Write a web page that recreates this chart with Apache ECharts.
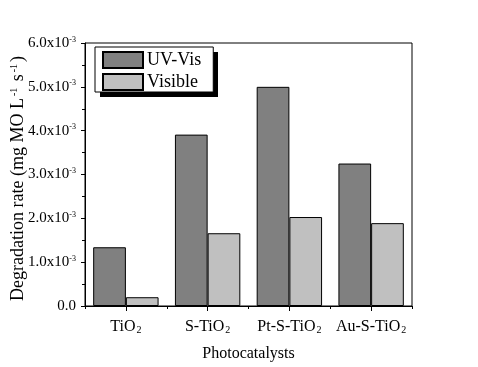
<!DOCTYPE html>
<html>
<head>
<meta charset="utf-8">
<script src="https://cdn.jsdelivr.net/npm/echarts@6/dist/echarts.min.js"></script>
<style>
  html, body { margin: 0; padding: 0; background: #fff; }
  #chart { width: 478px; height: 367px; }
</style>
</head>
<body>
<div id="chart"></div>
<script>
// values, in mg MO L^-1 s^-1
const categories = ['TiO2', 'S-TiO2', 'Pt-S-TiO2', 'Au-S-TiO2']
const uvVis   = [1.34e-3, 3.91e-3, 5.00e-3, 3.25e-3]
const visible = [0.20e-3, 1.66e-3, 2.03e-3, 1.89e-3]

const FONT = '"Liberation Serif", "Times New Roman", serif'

const chart = echarts.init(document.getElementById('chart'), null, { renderer: 'canvas' })

// subscript the trailing 2 in the catalyst names
function catLabel(name) {
  return name.endsWith('2') ? `{n|${name.slice(0, -1)}}{sub|2}` : `{n|${name}}`
}

function yLabel(v) {
  if (Math.abs(v) < 1e-9) return '{n|0.0}'
  return `{n|${(v * 1000).toFixed(1)}x10}{sup|-3}`
}

const catAxisBase = {
  type: 'category',
  data: categories,
  position: 'bottom',
  axisLine: { lineStyle: { color: '#000', width: 1 } },
  splitLine: { show: false },
}

chart.setOption({
  backgroundColor: '#fff',
  animation: false,
  textStyle: { fontFamily: FONT },
  grid: {
    left: 85, right: 66, top: 43, bottom: 61,
    containLabel: false, outerBoundsMode: 'none',
    show: true, borderColor: '#000', borderWidth: 1, backgroundColor: 'transparent',
  },
  // hard drop shadow behind the legend box
  graphic: [{
    type: 'rect', z: 3, silent: true,
    shape: { x: 100, y: 52, width: 118, height: 45 },
    style: { fill: '#000' },
  }],
  legend: {
    left: 95, top: 47, z: 4,
    orient: 'vertical',
    itemWidth: 40, itemHeight: 16, itemGap: 4,
    padding: [4, 12, 1, 7],
    backgroundColor: '#fff',
    borderColor: '#000', borderWidth: 1,
    icon: 'rect',
    textStyle: { fontFamily: FONT, fontSize: 18, color: '#000', padding: [0, 0, 0, -1] },
    data: ['UV-Vis', 'Visible'],
  },
  xAxis: [
    {
      ...catAxisBase,
      name: 'Photocatalysts',
      nameLocation: 'middle',
      nameGap: 40,
      nameMoveOverlap: false,
      nameTextStyle: { fontFamily: FONT, fontSize: 16, color: '#000' },
      axisTick: { show: true, length: 3, lineStyle: { color: '#000' } },
      axisLabel: {
        margin: 13,
        interval: 0,
        hideOverlap: false,
        formatter: catLabel,
        rich: {
          n: { fontFamily: FONT, fontSize: 16, color: '#000' },
          sub: { fontFamily: FONT, fontSize: 10, color: '#000', verticalAlign: 'bottom', padding: [6, 0, 0, 1] },
        },
      },
    },
    {
      // second copy only for the longer ticks under each category centre
      ...catAxisBase,
      axisLine: { show: false },
      axisTick: { show: true, alignWithLabel: true, length: 5, lineStyle: { color: '#000' } },
      axisLabel: { show: false },
    },
  ],
  yAxis: {
    type: 'value',
    min: 0, max: 6e-3, interval: 1e-3,
    name: 'Degradation rate (mg MO L{sup|-1} s{sup|-1})',
    nameLocation: 'middle',
    nameGap: 58,
    nameMoveOverlap: false,
    nameTextStyle: {
      fontFamily: FONT, fontSize: 18, color: '#000',
      padding: [0, 8, 0, 0],
      rich: {
        sup: { fontFamily: FONT, fontSize: 10, color: '#000', verticalAlign: 'top', padding: [0, 2, 6, 2] },
      },
    },
    axisLine: { show: true, lineStyle: { color: '#000' } },
    axisTick: { show: true, length: 4, lineStyle: { color: '#000' } },
    minorTick: { show: true, splitNumber: 2, length: 3, lineStyle: { color: '#000' } },
    splitLine: { show: false },
    axisLabel: {
      margin: 9,
      formatter: yLabel,
      rich: {
        n: { fontFamily: FONT, fontSize: 15, color: '#000' },
        sup: { fontFamily: FONT, fontSize: 8, color: '#000', verticalAlign: 'top', padding: [0, 0, 7, 0] },
      },
    },
  },
  series: [
    {
      name: 'UV-Vis', type: 'bar', data: uvVis,
      barGap: '0%', barCategoryGap: '20%',
      itemStyle: { color: '#808080', borderColor: '#000', borderWidth: 1 },
    },
    {
      name: 'Visible', type: 'bar', data: visible,
      barGap: '0%', barCategoryGap: '20%',
      itemStyle: { color: '#c0c0c0', borderColor: '#000', borderWidth: 1 },
    },
  ],
})
</script>
</body>
</html>
